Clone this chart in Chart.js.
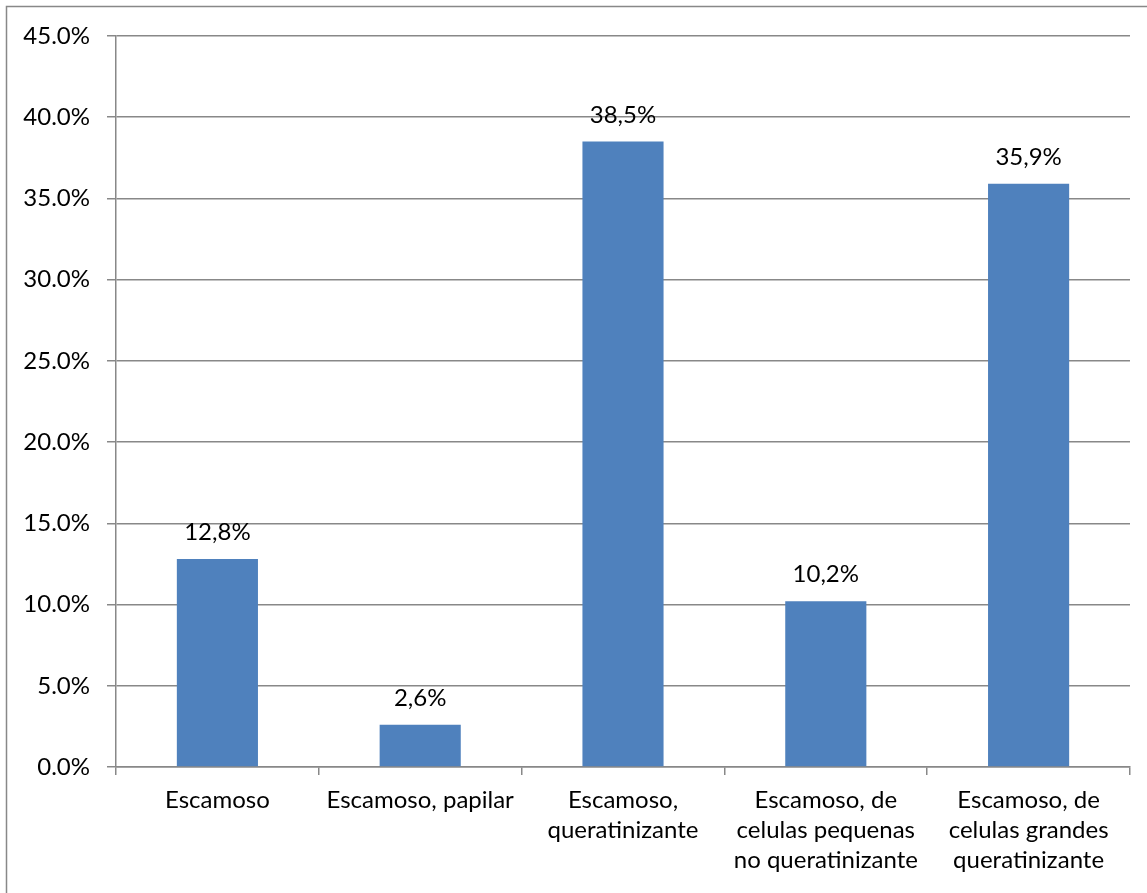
<!DOCTYPE html>
<html>
<head>
<meta charset="utf-8">
<script src="https://cdn.jsdelivr.net/npm/chart.js@4/dist/chart.umd.min.js"></script>
<style>
  html, body { margin: 0; padding: 0; background: #fff; overflow: hidden; }
  #wrap { width: 1147px; height: 893px; position: relative; }
</style>
</head>
<body>
<div id="wrap"><canvas id="chart" width="1147" height="893"></canvas></div>
<script>
// categorias y porcentajes
const categories = [
    ['Escamoso'],
    ['Escamoso, papilar'],
    ['Escamoso,', 'queratinizante'],
    ['Escamoso, de', 'celulas pequenas', 'no queratinizante'],
    ['Escamoso, de', 'celulas grandes', 'queratinizante']
];
const percentValues = [12.8, 2.6, 38.5, 10.2, 35.9];
const yTicksMax = 45;
const yTicksStep = 5;

const lineColor = '#888888';
const fontFamily = 'Lato, "Open Sans", sans-serif';
const fontSize = 24;

// bordes del marco y etiquetas sobre las barras
const frameAndLabels = {
    id: 'frameAndLabels',
    afterDraw(chart) {
        const c = chart.ctx;
        c.save();
        c.strokeStyle = lineColor;
        c.lineWidth = 1.5;
        c.beginPath();
        c.moveTo(6.5, 900);
        c.lineTo(6.5, 6.5);
        c.lineTo(1200, 6.5);
        c.stroke();

        c.fillStyle = '#000';
        c.font = fontSize + 'px ' + fontFamily;
        c.textAlign = 'center';
        c.textBaseline = 'alphabetic';
        chart.getDatasetMeta(0).data.forEach((bar, i) => {
            const txt = percentValues[i].toFixed(1).replace('.', ',') + '%';
            c.fillText(txt, bar.x, bar.y - 19);
        });
        c.restore();
    }
};

const ctx = document.getElementById('chart').getContext('2d');
new Chart(ctx, {
    type: 'bar',
    data: {
        labels: categories,
        datasets: [{
            data: percentValues,
            backgroundColor: '#4F81BD',
            borderWidth: 0,
            categoryPercentage: 1,
            barPercentage: 0.4
        }]
    },
    options: {
        responsive: false,
        animation: false,
        layout: { padding: { top: 36, right: 17, left: 0, bottom: 0 } },
        plugins: {
            legend: { display: false },
            tooltip: { enabled: false }
        },
        scales: {
            x: {
                afterFit(scale) { scale.height = 126; },
                grid: {
                    drawOnChartArea: false,
                    color: lineColor,
                    lineWidth: 1.5,
                    tickLength: 8,
                    offset: true
                },
                border: { color: lineColor, width: 1.5 },
                ticks: {
                    color: '#000',
                    padding: 10,
                    maxRotation: 0,
                    autoSkip: false,
                    font: { family: fontFamily, size: fontSize, lineHeight: 1.25 }
                }
            },
            y: {
                min: 0,
                max: yTicksMax,
                afterFit(scale) { scale.width = 116; },
                grid: {
                    color: lineColor,
                    lineWidth: 1.5,
                    tickLength: 9
                },
                border: { color: lineColor, width: 1.5 },
                ticks: {
                    stepSize: yTicksStep,
                    color: '#000',
                    padding: 17,
                    font: { family: fontFamily, size: fontSize },
                    callback: v => v.toFixed(1) + '%'
                }
            }
        }
    },
    plugins: [frameAndLabels]
});
</script>
</body>
</html>
